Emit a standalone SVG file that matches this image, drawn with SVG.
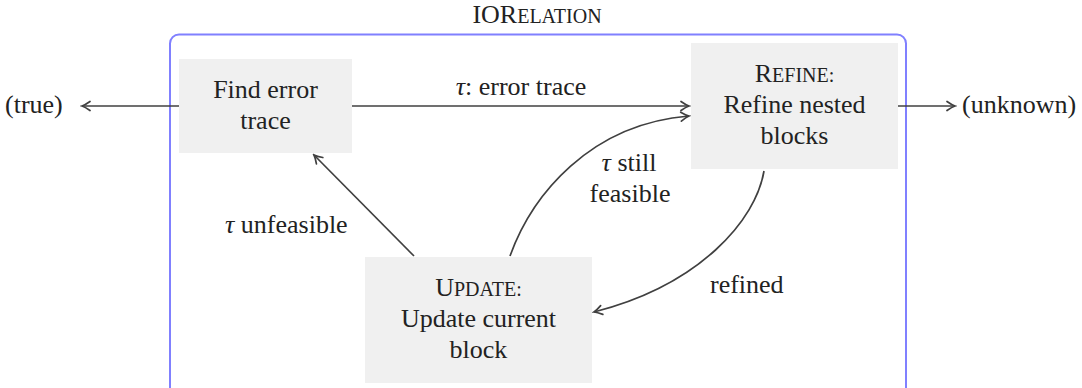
<svg xmlns="http://www.w3.org/2000/svg" width="1082" height="388" viewBox="0 0 1082 388">
<style>
text{font-size:26px;fill:#222;}
.c{text-anchor:middle;}
.sc{font-size:20px;}
.box{fill:#f0f0f0;}
.edge{fill:none;stroke:#404040;stroke-width:1.7;marker-end:url(#arr);}
.it{font-style:italic;}
</style>
<defs>
<marker id="arr" viewBox="-10 -6 12 12" markerWidth="12" markerHeight="12" refX="0" refY="0" orient="auto" markerUnits="userSpaceOnUse">
<path d="M-8,-4.5 Q-3,-1 0,0 Q-3,1 -8,4.5" fill="none" stroke="#404040" stroke-width="1.7" stroke-linecap="round"/>
</marker>
</defs>
<g font-family="Liberation Serif, DejaVu Serif, serif">
<rect id="container" x="170" y="34.5" width="736" height="420" rx="9" fill="none" stroke="#8080ff" stroke-width="2"/>
<text class="c" x="537" y="23">IOR<tspan class="sc">ELATION</tspan></text>
<g id="find">
<rect class="box" x="179" y="59" width="173" height="94"/>
<text class="c" x="265.5" y="98">Find error</text>
<text class="c" x="265.5" y="129">trace</text>
</g>
<g id="refine">
<rect class="box" x="691" y="43" width="207" height="126"/>
<text class="c" x="794.5" y="82">R<tspan class="sc">EFINE:</tspan></text>
<text class="c" x="794.5" y="113">Refine nested</text>
<text class="c" x="794.5" y="144">blocks</text>
</g>
<g id="update">
<rect class="box" x="365" y="257" width="227" height="126"/>
<text class="c" x="478.5" y="296">U<tspan class="sc">PDATE:</tspan></text>
<text class="c" x="478.5" y="327">Update current</text>
<text class="c" x="478.5" y="358">block</text>
</g>
<g id="true">
<text x="5" y="113">(true)</text>
</g>
<g id="unknown">
<text x="962" y="113">(unknown)</text>
</g>
<g id="connectors">
<path class="edge" d="M179,106 L82,106"/>
<path class="edge" d="M898,106 L955,106"/>
<path class="edge" d="M352,106 L689,106"/>
<path class="edge" d="M414,256 L314,155"/>
<path class="edge" d="M510,256 C532,195 590,124 689,116"/>
<path class="edge" d="M764,171 C756,220 700,285 594,312"/>
<text class="c" x="521" y="95"><tspan class="it">τ</tspan>: error trace</text>
<text x="225" y="233"><tspan class="it">τ</tspan> unfeasible</text>
<text class="c" x="629" y="171"><tspan class="it">τ</tspan> still</text>
<text class="c" x="630" y="202">feasible</text>
<text x="710" y="293">refined</text>
</g>
</g>
</svg>
